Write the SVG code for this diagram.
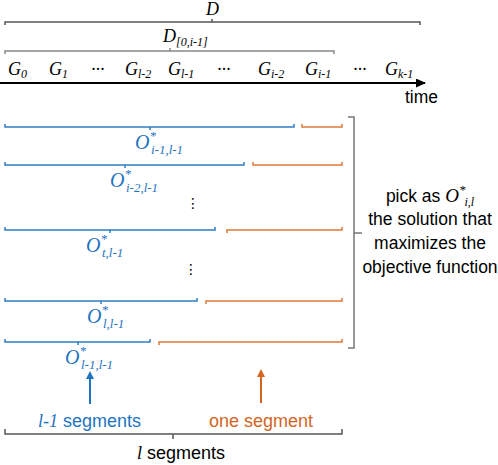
<svg xmlns="http://www.w3.org/2000/svg" width="498" height="465" viewBox="0 0 498 465">
<style>
.br{fill:none;stroke-width:1.5}
.bl{stroke:#2f7ec3}
.or{stroke:#e07b39}
.gr{stroke:#555}
.g{font-family:"Liberation Serif",serif;font-style:italic;font-size:18px;fill:#000}
.sub{font-size:12px}
.ob{font-family:"Liberation Serif",serif;font-style:italic;font-size:20px;fill:#1f74bf}
.ob .st{font-size:13px}
.ob .sb{font-size:13px}
.sans{font-family:"Liberation Sans",Arial,sans-serif;font-size:17.5px}
.bot{font-size:18px}
.it{font-family:"Liberation Serif",serif;font-style:italic}
.dots{font-family:"DejaVu Sans",sans-serif;font-size:14px;fill:#000}
</style>
<defs>
<marker id="ab" markerWidth="8" markerHeight="8" refX="6" refY="4" orient="auto" markerUnits="userSpaceOnUse"><path d="M0,0 L8,4 L0,8 z" fill="#1f74bf"/></marker>
<marker id="ao" markerWidth="8" markerHeight="8" refX="6" refY="4" orient="auto" markerUnits="userSpaceOnUse"><path d="M0,0 L8,4 L0,8 z" fill="#d2651f"/></marker>
<marker id="ak" markerWidth="10" markerHeight="9" refX="9" refY="4.5" orient="auto" markerUnits="userSpaceOnUse"><path d="M0,0 L10,4.5 L0,9 z" fill="#000"/></marker>
</defs>
<g id="top-brackets">
<path class="br gr" d="M5,25 V22 H420 V25 M212,22 V19"/>
<text class="g" x="206" y="15">D</text>
<path class="br" stroke="#888" d="M5,54 V51 H334 V54 M170,51 V48"/>
<text class="g" x="163" y="42">D<tspan class="sub" dy="4">[0,i-1]</tspan></text>
</g>
<g id="timeline">
<line x1="0" y1="83" x2="425" y2="83" stroke="#000" stroke-width="2" marker-end="url(#ak)"/>
<text class="sans" x="405" y="103" fill="#000">time</text>
<text class="g" x="8" y="75">G<tspan class="sub" dy="3">0</tspan></text>
<text class="g" x="49" y="75">G<tspan class="sub" dy="3">1</tspan></text>
<text class="g" x="91" y="75">···</text>
<text class="g" x="125" y="75">G<tspan class="sub" dy="3">l-2</tspan></text>
<text class="g" x="168" y="75">G<tspan class="sub" dy="3">l-1</tspan></text>
<text class="g" x="217" y="75">···</text>
<text class="g" x="258" y="75">G<tspan class="sub" dy="3">i-2</tspan></text>
<text class="g" x="305" y="75">G<tspan class="sub" dy="3">i-1</tspan></text>
<text class="g" x="353" y="75">···</text>
<text class="g" x="385" y="75">G<tspan class="sub" dy="3">k-1</tspan></text>
</g>
<g id="row1">
<path class="br bl" d="M5,124 V127 H294 V124 M150,127 V130"/>
<path class="br or" d="M302,124 V127 H342 V124"/>
<text class="ob" x="135" y="149">O<tspan class="st" dy="-9">*</tspan><tspan class="sb" dx="-5" dy="14">i-1,l-1</tspan></text>
</g>
<g id="row2">
<path class="br bl" d="M5,162 V165 H244 V162 M125,165 V168"/>
<path class="br or" d="M253,162 V165 H342 V162"/>
<text class="ob" x="110" y="187">O<tspan class="st" dy="-9">*</tspan><tspan class="sb" dx="-5" dy="14">i-2,l-1</tspan></text>
</g>
<text class="dots" x="186" y="208">⋮</text>
<g id="row3">
<path class="br bl" d="M5,227 V230 H215 V227 M110,230 V233"/>
<path class="br or" d="M227,233 V230 H342 V227"/>
<text class="ob" x="86" y="252">O<tspan class="st" dy="-9">*</tspan><tspan class="sb" dx="-5" dy="14">t,l-1</tspan></text>
</g>
<text class="dots" x="184" y="274">⋮</text>
<g id="row4">
<path class="br bl" d="M5,298 V301 H197 V298 M101,301 V304"/>
<path class="br or" d="M206,304 V301 H342 V298"/>
<text class="ob" x="87" y="323">O<tspan class="st" dy="-9">*</tspan><tspan class="sb" dx="-5" dy="14">l,l-1</tspan></text>
</g>
<g id="row5">
<path class="br bl" d="M5,339 V342 H150 V339 M78,342 V345"/>
<path class="br or" d="M159,345 V342 H342 V339"/>
<text class="ob" x="65" y="364">O<tspan class="st" dy="-9">*</tspan><tspan class="sb" dx="-5" dy="14">l-1,l-1</tspan></text>
</g>
<g id="choice">
<path class="br" stroke="#777" d="M348,117 H354 V348 H348 M354,233 H362"/>
<text class="sans" x="430" y="202" text-anchor="middle" fill="#000">pick as <tspan class="it" font-size="19">O</tspan><tspan class="it" font-size="13" dy="-8">*</tspan><tspan class="it" font-size="12" dx="-1" dy="12">i,l</tspan></text>
<text class="sans" x="430" y="225" text-anchor="middle" fill="#000">the solution that</text>
<text class="sans" x="430" y="249" text-anchor="middle" fill="#000">maximizes the</text>
<text class="sans" x="430" y="273" text-anchor="middle" fill="#000">objective function</text>
</g>
<g id="connectors">
<line x1="90" y1="404" x2="90" y2="373" stroke="#1f74bf" stroke-width="2" marker-end="url(#ab)"/>
<line x1="261" y1="403" x2="261" y2="371" stroke="#d2651f" stroke-width="2" marker-end="url(#ao)"/>
</g>
<g id="labels">
<text class="sans bot" x="38" y="427" fill="#1f74bf"><tspan class="it" font-size="18">l-1</tspan> segments</text>
<text class="sans bot" x="209" y="427" fill="#d2651f">one segment</text>
<path class="br gr" d="M5,429 V434 H342 V429 M173,434 V439"/>
<text class="sans bot" x="137" y="459" fill="#000"><tspan class="it" font-size="18">l</tspan> segments</text>
</g>
</svg>
